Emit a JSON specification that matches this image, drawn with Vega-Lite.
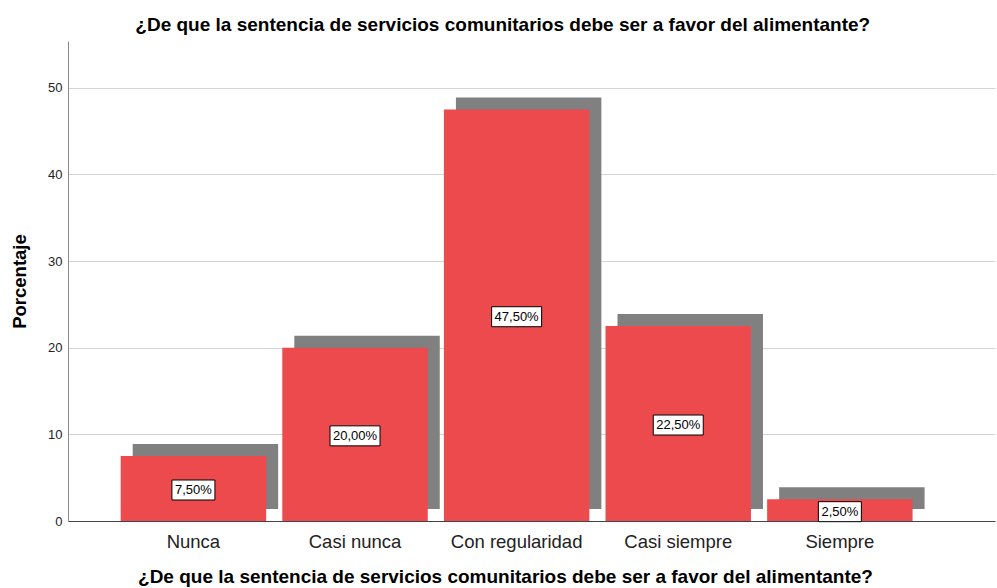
{
  "$schema": "https://vega.github.io/schema/vega-lite/v6.json",
  "width": 927,
  "height": 480,
  "autosize": "none",
  "padding": {"left": 68, "top": 41, "right": 2, "bottom": 67},
  "background": "white",
  "config": {
    "view": {"stroke": null},
    "font": "Liberation Sans"
  },
  "title": {
    "text": "¿De que la sentencia de servicios comunitarios debe ser a favor del alimentante?",
    "fontSize": 19,
    "fontWeight": "bold",
    "color": "#000000",
    "anchor": "middle",
    "frame": "bounds",
    "offset": 6
  },
  "data": {
    "values": [
      {"cat": "Nunca", "value": 7.5, "label": "7,50%"},
      {"cat": "Casi nunca", "value": 20.0, "label": "20,00%"},
      {"cat": "Con regularidad", "value": 47.5, "label": "47,50%"},
      {"cat": "Casi siempre", "value": 22.5, "label": "22,50%"},
      {"cat": "Siempre", "value": 2.5, "label": "2,50%"}
    ]
  },
  "encoding": {
    "x": {
      "field": "cat",
      "type": "nominal",
      "sort": ["Nunca", "Casi nunca", "Con regularidad", "Casi siempre", "Siempre"],
      "scale": {"paddingInner": 0.1, "paddingOuter": 0.418, "align": 0.39},
      "axis": {
        "title": "¿De que la sentencia de servicios comunitarios debe ser a favor del alimentante?",
        "titleFontSize": 19,
        "titleFontWeight": "bold",
        "titleColor": "#000000",
        "titleX": 437,
        "titlePadding": 17,
        "labelAngle": 0,
        "labelFontSize": 18.5,
        "labelColor": "#222222",
        "labelPadding": 11,
        "ticks": false,
        "domainColor": "#444444",
        "domainWidth": 1
      }
    }
  },
  "layer": [
    {
      "mark": {"type": "bar", "color": "#808080", "xOffset": 12, "x2Offset": 12, "yOffset": -12, "y2Offset": -12},
      "encoding": {
        "y": {"field": "value", "type": "quantitative", "scale": {"domain": [0, 55.4], "nice": false}, "axis": null}
      }
    },
    {
      "mark": {"type": "bar", "color": "#EC4A4D"},
      "encoding": {
        "y": {
          "field": "value",
          "type": "quantitative",
          "scale": {"domain": [0, 55.4], "nice": false},
          "axis": {
            "title": "Porcentaje",
            "titleFontSize": 18.5,
            "titleFontWeight": "bold",
            "titleColor": "#000000",
            "titlePadding": 18,
            "values": [0, 10, 20, 30, 40, 50],
            "labelFontSize": 13,
            "labelColor": "#222222",
            "labelPadding": 6,
            "ticks": false,
            "grid": true,
            "gridColor": "#d4d4d4",
            "gridWidth": 1,
            "domainColor": "#8a8a8a",
            "domainWidth": 1
          }
        }
      }
    },
    {
      "encoding": {
        "y": {"field": "value", "type": "quantitative", "scale": {"domain": [0, 110.8], "nice": false}, "axis": null}
      },
      "layer": [
        {
          "mark": {"type": "point", "filled": true, "fill": "white", "stroke": "#000000", "strokeWidth": 1, "opacity": 1, "size": 1600, "yOffset": 1.5},
          "encoding": {
            "shape": {
              "condition": {"test": "datum.value >= 10", "value": "M-1.25,-0.5H1.25V0.5H-1.25Z"},
              "value": "M-1.075,-0.5H1.075V0.5H-1.075Z"
            }
          }
        },
        {
          "mark": {"type": "text", "fontSize": 13, "color": "#000000", "baseline": "middle", "align": "center", "yOffset": 1.5},
          "encoding": {"text": {"field": "label"}}
        }
      ]
    }
  ],
  "resolve": {"scale": {"y": "independent"}}
}
